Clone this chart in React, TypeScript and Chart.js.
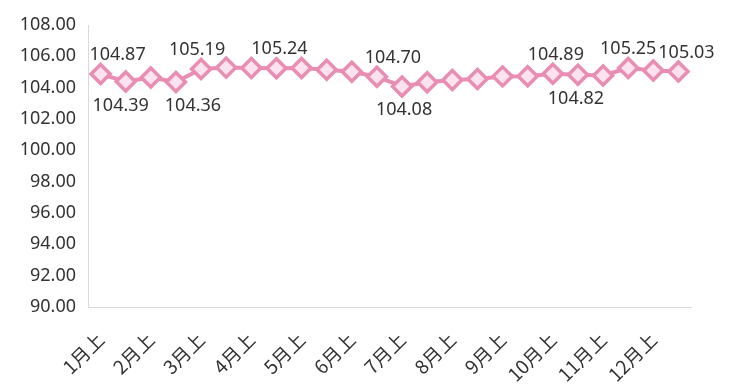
import React, { useEffect, useRef } from "react";
import { Chart, registerables } from "chart.js";

Chart.register(...registerables);

const months = ["1月", "2月", "3月", "4月", "5月", "6月", "7月", "8月", "9月", "10月", "11月", "12月"];
const halves = ["上", "下"];
const categories: string[] = months.flatMap((m) => halves.map((h) => m + h));

const values: number[] = [
  104.87, 104.39, 104.65, 104.36, 105.19, 105.28, 105.26, 105.24,
  105.25, 105.14, 105.02, 104.70, 104.08, 104.35, 104.49, 104.55,
  104.72, 104.73, 104.89, 104.82, 104.78, 105.25, 105.10, 105.03,
];

const yMin = 90;
const yMax = 108;
const yStep = 2;

// which points carry a value label, and on which side
const labelIndex: number[] = [0, 1, 3, 4, 7, 11, 12, 18, 19, 21, 23];
const labelSide: string[] = ["above", "below", "below", "above", "above", "above", "below", "above", "below", "above", "above"];
const labelShift: number[] = [17, -5, 17, -4, 3, 16, 2, 3, -2, 0, 8];

const FONT = '"Noto Sans", "Noto Sans CJK SC", sans-serif';
const CJK_FONT = '"Noto Sans CJK SC", "Noto Sans", sans-serif';
const LINE = "#e98db3";
const FILL = "#fde3ef";
const TEXT = "#333333";

const valueLabels = {
  id: "valueLabels",
  afterDatasetsDraw(chart: any) {
    const meta = chart.getDatasetMeta(0);
    const ctx = chart.ctx;
    ctx.save();
    ctx.font = `18px ${FONT}`;
    ctx.fillStyle = TEXT;
    ctx.textAlign = "center";
    ctx.textBaseline = "alphabetic";
    labelIndex.forEach((idx, k) => {
      const pt = meta.data[idx];
      const v = values[idx];
      const txt = v.toFixed(2);
      const x = pt.x + labelShift[k];
      const y = labelSide[k] === "above" ? pt.y - 14 : pt.y + 29;
      ctx.fillText(txt, x, y);
    });
    ctx.restore();
  },
};

export default function App() {
  const ref = useRef<HTMLCanvasElement | null>(null);
  useEffect(() => {
    if (!ref.current) return;
    const chart = new Chart(ref.current, {
      type: "line",
      data: {
        labels: categories,
        datasets: [
          {
            data: values,
            borderColor: LINE,
            borderWidth: 4,
            backgroundColor: FILL,
            pointStyle: "rectRot",
            pointRadius: 9.5,
            pointBorderWidth: 3.5,
            pointBorderColor: LINE,
            pointBackgroundColor: FILL,
            tension: 0,
          },
        ],
      },
      options: {
        responsive: false,
        animation: false,
        layout: { padding: { top: 25, right: 40, left: 0, bottom: 0 } },
        plugins: { legend: { display: false }, tooltip: { enabled: false } },
        scales: {
          x: {
            offset: true,
            grid: { display: false, drawTicks: false },
            border: { display: true, color: "#d9d9d9", width: 1 },
            ticks: {
              autoSkip: false,
              minRotation: 45,
              maxRotation: 45,
              padding: 21,
              color: TEXT,
              font: { size: 19, family: CJK_FONT },
              callback: (_v: any, i: number) => (i % 2 === 0 ? categories[i] : ""),
            },
            afterFit: (s: any) => {
              s.height = 82;
            },
          },
          y: {
            min: yMin,
            max: yMax,
            grid: { display: false, drawTicks: false },
            border: { display: true, color: "#d9d9d9", width: 1 },
            ticks: {
              stepSize: yStep,
              padding: 12,
              color: TEXT,
              font: { size: 18, family: FONT },
              callback: (v: any) => Number(v).toFixed(2),
            },
            afterFit: (s: any) => {
              s.width = 88;
            },
          },
        },
      },
      plugins: [valueLabels],
    });
    return () => chart.destroy();
  }, []);
  return (
    <div style={{ position: "absolute", left: 0, top: 0, width: 731, height: 389, background: "#fff" }}>
      <canvas ref={ref} width={731} height={389} />
    </div>
  );
}
